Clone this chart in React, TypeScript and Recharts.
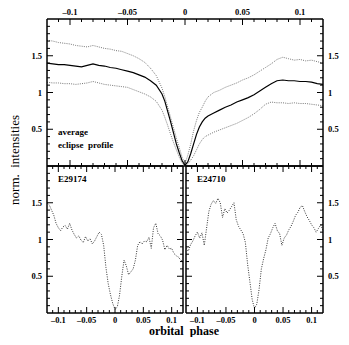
import { LineChart, Line, XAxis, YAxis } from "recharts";

const FONT = "'Liberation Serif', 'DejaVu Serif', serif";

// top panel: average eclipse profile with upper / lower envelopes
const topPhase = [
  -0.12, -0.115, -0.11, -0.105, -0.1, -0.095, -0.09, -0.085, -0.08, -0.075,
  -0.07, -0.065, -0.06, -0.055, -0.05, -0.045, -0.04, -0.035, -0.03, -0.025,
  -0.02, -0.0175, -0.015, -0.0125, -0.01, -0.0075, -0.005, -0.0025, 0,
  0.0025, 0.005, 0.0075, 0.01, 0.0125, 0.015, 0.0175, 0.02,
  0.025, 0.03, 0.035, 0.04, 0.045, 0.05, 0.055, 0.06, 0.065, 0.07,
  0.075, 0.08, 0.085, 0.09, 0.095, 0.1, 0.105, 0.11, 0.115, 0.12,
];
const avgProfile = [
  1.4, 1.39, 1.38, 1.38, 1.37, 1.36, 1.35, 1.37, 1.39, 1.37,
  1.36, 1.34, 1.33, 1.31, 1.29, 1.27, 1.24, 1.21, 1.16, 1.1,
  0.98, 0.88, 0.74, 0.6, 0.45, 0.3, 0.18, 0.07, 0.01,
  0.06, 0.17, 0.3, 0.43, 0.53, 0.6, 0.65, 0.68,
  0.72, 0.76, 0.8, 0.83, 0.87, 0.9, 0.93, 0.97, 1.02, 1.07,
  1.12, 1.16, 1.17, 1.16, 1.16, 1.15, 1.15, 1.14, 1.12, 1.11,
];
const upperEnvelope = [
  1.71, 1.7, 1.68, 1.67, 1.66, 1.64, 1.63, 1.62, 1.64, 1.62,
  1.6, 1.59, 1.57, 1.56, 1.53, 1.5, 1.46, 1.41, 1.33, 1.23,
  1.06, 0.94, 0.8, 0.66, 0.52, 0.38, 0.25, 0.12, 0.03,
  0.15, 0.3, 0.48, 0.62, 0.73, 0.8, 0.88, 0.94,
  1.0, 1.03, 1.07, 1.1, 1.13, 1.17, 1.2, 1.24, 1.29, 1.34,
  1.39, 1.45, 1.48, 1.46, 1.44, 1.45, 1.43, 1.44, 1.42, 1.4,
];
const lowerEnvelope = [
  1.14, 1.13, 1.13, 1.12, 1.12, 1.11, 1.12, 1.13, 1.15, 1.13,
  1.11, 1.1, 1.09, 1.08, 1.07, 1.04, 1.01, 0.98, 0.94, 0.88,
  0.76, 0.66, 0.55, 0.43, 0.32, 0.22, 0.12, 0.04, 0.0,
  0.03, 0.08, 0.14, 0.22, 0.3, 0.36, 0.4, 0.42,
  0.46, 0.49, 0.52, 0.55, 0.58, 0.62, 0.66, 0.71, 0.77, 0.84,
  0.87, 0.86, 0.86, 0.85, 0.86, 0.85, 0.85, 0.84, 0.83, 0.82,
];

// bottom panels: single eclipses
const panelPhase = [
  -0.12, -0.116, -0.112, -0.108, -0.104, -0.1, -0.096, -0.092, -0.088, -0.084,
  -0.08, -0.076, -0.072, -0.068, -0.064, -0.06, -0.056, -0.052, -0.048, -0.044,
  -0.04, -0.036, -0.032, -0.028, -0.024, -0.02, -0.016, -0.012, -0.008, -0.004,
  0, 0.004, 0.008, 0.012, 0.016, 0.02, 0.024, 0.028, 0.032, 0.036,
  0.04, 0.044, 0.048, 0.052, 0.056, 0.06, 0.064, 0.068, 0.072, 0.076,
  0.08, 0.084, 0.088, 0.092, 0.096, 0.1, 0.104, 0.108, 0.112, 0.116, 0.12,
];
const e29174 = [
  1.5, 1.47, 1.4, 1.33, 1.22, 1.16, 1.12, 1.17, 1.19, 1.14,
  1.22, 1.13, 1.07, 1.02, 1.05, 0.99, 0.96, 1.04, 0.98, 1.01,
  0.94, 0.98, 1.04, 1.1, 1.07, 0.92, 0.62, 0.4, 0.25, 0.13,
  0.05, 0.08, 0.24, 0.5, 0.72, 0.64, 0.52, 0.56, 0.6, 0.72,
  0.92, 0.97, 0.94, 0.98, 0.97, 1.03, 0.88, 1.16, 1.22, 1.08,
  1.05, 0.99, 0.86, 0.92, 0.87, 0.88, 0.81, 0.78, 0.76, 0.72, 0.7,
];
const e24710 = [
  0.88, 0.84, 0.93, 0.98, 1.05, 1.1, 1.02, 1.09, 0.92, 1.15,
  1.38, 1.48, 1.53, 1.49, 1.56, 1.5, 1.3, 1.42, 1.36, 1.4,
  1.45, 1.5, 1.27, 1.18, 1.13, 1.08, 0.96, 0.66, 0.42, 0.18,
  0.06, 0.12, 0.32, 0.6, 0.74, 0.86, 1.02, 1.08, 1.16, 1.22,
  1.12, 1.08, 0.92, 1.02, 1.06, 1.13, 1.18, 1.25, 1.33, 1.37,
  1.44, 1.46, 1.38, 1.31, 1.26, 1.2, 1.16, 1.1, 1.15, 1.2, 1.12,
];

const xTicks = [
  -0.11, -0.1, -0.09, -0.08, -0.07, -0.06, -0.05, -0.04, -0.03, -0.02, -0.01, 0,
  0.01, 0.02, 0.03, 0.04, 0.05, 0.06, 0.07, 0.08, 0.09, 0.1, 0.11,
];
const xMajor = [-0.1, -0.05, 0, 0.05, 0.1];
const yTicks = [0.1, 0.2, 0.3, 0.4, 0.5, 0.6, 0.7, 0.8, 0.9, 1, 1.1, 1.2, 1.3, 1.4, 1.5, 1.6, 1.7, 1.8, 1.9];
const yMajor = [0.5, 1, 1.5];

const topData = topPhase.map((phase, i) => ({
  phase,
  avg: avgProfile[i],
  upper: upperEnvelope[i],
  lower: lowerEnvelope[i],
}));
const leftData = panelPhase.map((phase, i) => ({ phase, v: e29174[i] }));
const rightData = panelPhase.map((phase, i) => ({ phase, v: e24710[i] }));

const near = (list: number[], v: number) => list.some((m) => Math.abs(m - v) < 1e-6);
const fmt = (v: number) => (v < 0 ? "\u2013" + String(-v) : String(v));
const labelStyle = { fontSize: 8.5, fontWeight: 700, fontFamily: FONT, fill: "#000" };

const xTick = (side: "top" | "bottom", labels: boolean) => (p: any) => {
  const v = p.payload.value;
  const major = near(xMajor, v);
  const dir = side === "top" ? 1 : -1;
  return (
    <g>
      <line x1={p.x} x2={p.x} y1={p.y} y2={p.y + dir * (major ? 6 : 3)} stroke="#000" strokeWidth={1} />
      {labels && major && (
        <text x={p.x} y={side === "top" ? p.y - 4 : p.y + 10} textAnchor="middle" {...labelStyle}>
          {fmt(v)}
        </text>
      )}
    </g>
  );
};

const yTick = (side: "left" | "right", labels: boolean) => (p: any) => {
  const v = p.payload.value;
  const major = near(yMajor, v);
  const dir = side === "left" ? 1 : -1;
  return (
    <g>
      <line x1={p.x} x2={p.x + dir * (major ? 6 : 3)} y1={p.y} y2={p.y} stroke="#000" strokeWidth={1} />
      {labels && major && (
        <text
          x={side === "left" ? p.x - 5 : p.x + 5}
          y={p.y + 3}
          textAnchor={side === "left" ? "end" : "start"}
          {...labelStyle}
        >
          {fmt(v)}
        </text>
      )}
    </g>
  );
};

const axisLine = { stroke: "#000", strokeWidth: 1.5 };
const xCommon = {
  type: "number" as const,
  domain: [-0.12, 0.12],
  ticks: xTicks,
  interval: 0 as const,
  allowDataOverflow: true,
  tickLine: false,
  tickSize: 0,
  tickMargin: 0,
  axisLine,
  dataKey: "phase",
};
const yCommon = {
  domain: [0, 2],
  ticks: yTicks,
  interval: 0 as const,
  allowDataOverflow: true,
  tickLine: false,
  tickSize: 0,
  tickMargin: 0,
  axisLine,
};

export default function App() {
  return (
    <div style={{ position: "relative", width: 349, height: 345, margin: -8, background: "#fff" }}>
      <svg width={349} height={345} style={{ position: "absolute", left: 0, top: 0 }}>
        <g fontFamily={FONT} fill="#000">
          <text x={58} y={135} fontSize={9} fontWeight={700}>average</text>
          <text x={58} y={148} fontSize={9} fontWeight={700}>eclipse&#160;&#160;profile</text>
          <text x={58} y={182} fontSize={9} fontWeight={700}>E29174</text>
          <text x={197} y={182} fontSize={9} fontWeight={700}>E24710</text>
          <text x={19} y={160} fontSize={13} textAnchor="middle" transform="rotate(-90 19 160)">
            norm.&#160;&#160;intensities
          </text>
          <text x={184} y={335} fontSize={12} fontWeight={700} textAnchor="middle">
            orbital&#160;&#160;phase
          </text>
        </g>
      </svg>
      <div style={{ position: "absolute", left: 0, top: 0 }}>
        <LineChart width={349} height={167} data={topData} margin={{ top: 0, right: 0, bottom: 0, left: 0 }}>
          <XAxis xAxisId="t" orientation="top" height={19} {...xCommon} tick={xTick("top", true)} />
          <XAxis xAxisId="b" orientation="bottom" height={1} {...xCommon} tick={xTick("bottom", false)} />
          <YAxis yAxisId="l" orientation="left" width={47} {...yCommon} tick={yTick("left", true)} />
          <YAxis yAxisId="r" orientation="right" width={26} {...yCommon} tick={yTick("right", true)} />
          <Line xAxisId="t" yAxisId="l" dataKey="upper" stroke="#777" strokeWidth={1} strokeDasharray="1 1.2" dot={false} isAnimationActive={false} />
          <Line xAxisId="t" yAxisId="l" dataKey="lower" stroke="#777" strokeWidth={1} strokeDasharray="1 1.2" dot={false} isAnimationActive={false} />
          <Line xAxisId="t" yAxisId="l" dataKey="avg" stroke="#000" strokeWidth={1.2} dot={false} isAnimationActive={false} />
        </LineChart>
      </div>
      <div style={{ position: "absolute", left: 0, top: 165 }}>
        <LineChart width={184} height={164} data={leftData} margin={{ top: 0, right: 0, bottom: 0, left: 0 }}>
          <XAxis xAxisId="t" orientation="top" height={1} {...xCommon} tick={xTick("top", false)} />
          <XAxis xAxisId="b" orientation="bottom" height={16} {...xCommon} tick={xTick("bottom", true)} />
          <YAxis yAxisId="l" orientation="left" width={47} {...yCommon} tick={yTick("left", true)} />
          <YAxis yAxisId="r" orientation="right" width={1} {...yCommon} tick={yTick("right", false)} />
          <Line xAxisId="b" yAxisId="l" dataKey="v" stroke="#333" strokeWidth={1} strokeDasharray="1 1.4" dot={false} isAnimationActive={false} />
        </LineChart>
      </div>
      <div style={{ position: "absolute", left: 185, top: 165 }}>
        <LineChart width={164} height={164} data={rightData} margin={{ top: 0, right: 0, bottom: 0, left: 0 }}>
          <XAxis xAxisId="t" orientation="top" height={1} {...xCommon} tick={xTick("top", false)} />
          <XAxis xAxisId="b" orientation="bottom" height={16} {...xCommon} tick={xTick("bottom", true)} />
          <YAxis yAxisId="l" orientation="left" width={1} {...yCommon} tick={yTick("left", false)} />
          <YAxis yAxisId="r" orientation="right" width={26} {...yCommon} tick={yTick("right", true)} />
          <Line xAxisId="b" yAxisId="l" dataKey="v" stroke="#333" strokeWidth={1} strokeDasharray="1 1.4" dot={false} isAnimationActive={false} />
        </LineChart>
      </div>
    </div>
  );
}
